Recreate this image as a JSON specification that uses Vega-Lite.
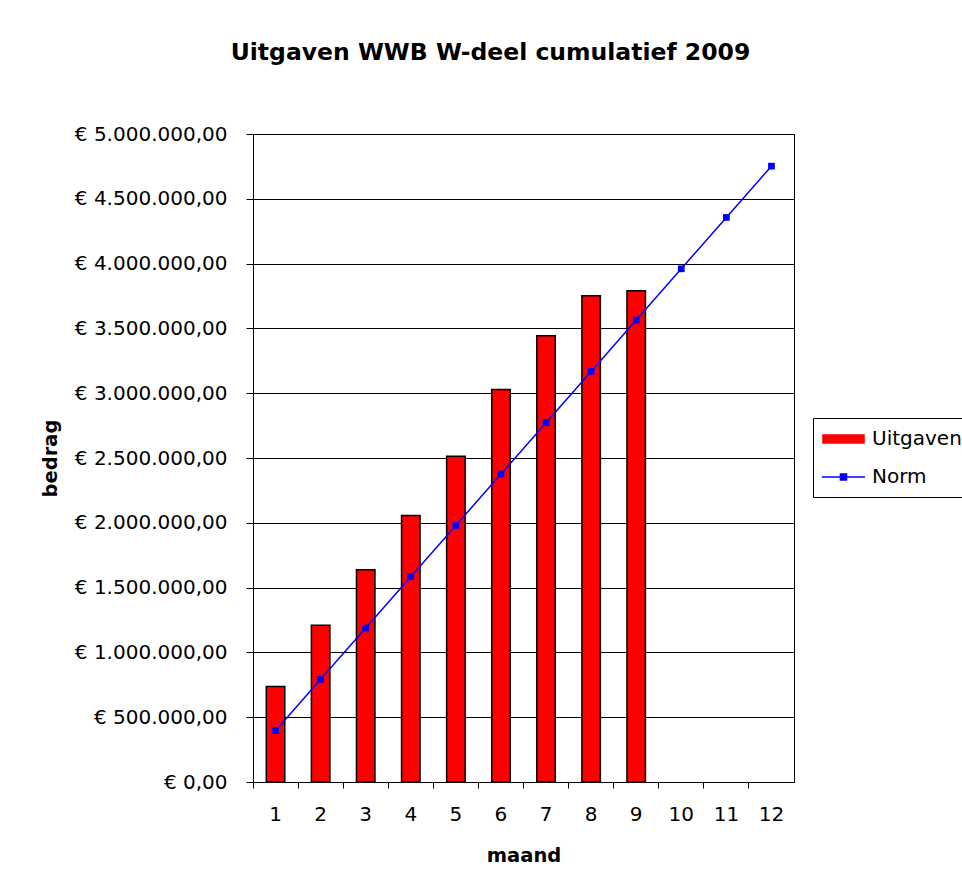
{
  "$schema": "https://vega.github.io/schema/vega-lite/v6.json",
  "width": 541,
  "height": 648,
  "autosize": {"type": "none"},
  "padding": {"left": 253, "top": 134, "right": 168, "bottom": 112},
  "background": "white",
  "title": {
    "text": "Uitgaven WWB W-deel cumulatief 2009",
    "fontSize": 23.5,
    "fontWeight": "bold",
    "font": "DejaVu Sans",
    "color": "#000000",
    "anchor": "middle",
    "frame": "group",
    "dx": -33,
    "offset": 41,
    "baseline": "alphabetic"
  },
  "data": {
    "values": [
      {"maand": 1, "serie": "Uitgaven", "bedrag": 737000},
      {"maand": 2, "serie": "Uitgaven", "bedrag": 1210000},
      {"maand": 3, "serie": "Uitgaven", "bedrag": 1637000},
      {"maand": 4, "serie": "Uitgaven", "bedrag": 2056000},
      {"maand": 5, "serie": "Uitgaven", "bedrag": 2514000},
      {"maand": 6, "serie": "Uitgaven", "bedrag": 3029000},
      {"maand": 7, "serie": "Uitgaven", "bedrag": 3443000},
      {"maand": 8, "serie": "Uitgaven", "bedrag": 3752000},
      {"maand": 9, "serie": "Uitgaven", "bedrag": 3790000},
      {"maand": 1, "serie": "Norm", "bedrag": 396000},
      {"maand": 2, "serie": "Norm", "bedrag": 792000},
      {"maand": 3, "serie": "Norm", "bedrag": 1188000},
      {"maand": 4, "serie": "Norm", "bedrag": 1584000},
      {"maand": 5, "serie": "Norm", "bedrag": 1980000},
      {"maand": 6, "serie": "Norm", "bedrag": 2376000},
      {"maand": 7, "serie": "Norm", "bedrag": 2772000},
      {"maand": 8, "serie": "Norm", "bedrag": 3168000},
      {"maand": 9, "serie": "Norm", "bedrag": 3564000},
      {"maand": 10, "serie": "Norm", "bedrag": 3960000},
      {"maand": 11, "serie": "Norm", "bedrag": 4356000},
      {"maand": 12, "serie": "Norm", "bedrag": 4752000}
    ]
  },
  "encoding": {
    "x": {
      "field": "maand",
      "type": "ordinal",
      "scale": {"paddingInner": 0, "paddingOuter": 0},
      "axis": {
        "title": "maand",
        "labelAngle": 0,
        "bandPosition": 0,
        "tickSize": 6,
        "labelPadding": 16,
        "labelFontSize": 20,
        "labelColor": "#000000",
        "titleFontSize": 19.5,
        "titleFontWeight": "bold",
        "titleColor": "#000000",
        "titlePadding": 22,
        "grid": false,
        "domainColor": "#000000",
        "tickColor": "#000000"
      }
    },
    "y": {
      "field": "bedrag",
      "type": "quantitative",
      "title": "bedrag",
      "scale": {"domain": [0, 5000000], "nice": false},
      "axis": {
        "values": [0, 500000, 1000000, 1500000, 2000000, 2500000, 3000000, 3500000, 4000000, 4500000, 5000000],
        "format": "$,.2f",
        "labelFontSize": 20,
        "labelColor": "#000000",
        "tickSize": 7,
        "tickColor": "#000000",
        "labelPadding": 19,
        "domainColor": "#000000",
        "grid": true,
        "gridColor": "#000000",
        "titleFontSize": 19.5,
        "titleFontWeight": "bold",
        "titleColor": "#000000",
        "titlePadding": 14
      }
    }
  },
  "layer": [
    {
      "transform": [{"filter": {"field": "serie", "equal": "geen"}}],
      "mark": {"type": "point", "filled": true, "opacity": 1},
      "encoding": {
        "color": {
          "field": "serie",
          "type": "nominal",
          "scale": {"domain": ["Uitgaven", "Norm"], "range": ["#FF0000", "#0000FF"]},
          "legend": {
            "title": null,
            "orient": "none",
            "legendX": 560,
            "legendY": 284,
            "strokeColor": "#000000",
            "fillColor": "#FFFFFF",
            "padding": 10,
            "labelFontSize": 20,
            "labelColor": "#000000",
            "symbolSize": 400,
            "symbolStrokeWidth": 1.5,
            "symbolOpacity": 1,
            "symbolOffset": 9.5,
            "labelOffset": 17.5,
            "rowPadding": 17
          }
        },
        "shape": {
          "field": "serie",
          "type": "nominal",
          "scale": {"domain": ["Uitgaven", "Norm"], "range": ["M-2.05,-0.4H2.05V0.4H-2.05Z", "M-2.15,0H2.15M-0.3,-0.3H0.3V0.3H-0.3Z"]},
          "legend": {
            "title": null,
            "orient": "none",
            "legendX": 560,
            "legendY": 284,
            "strokeColor": "#000000",
            "fillColor": "#FFFFFF",
            "padding": 10,
            "labelFontSize": 20,
            "labelColor": "#000000",
            "symbolSize": 400,
            "symbolStrokeWidth": 1.5,
            "symbolOpacity": 1,
            "symbolOffset": 9.5,
            "labelOffset": 17.5,
            "rowPadding": 17
          }
        },
        "stroke": {
          "field": "serie",
          "type": "nominal",
          "scale": {"domain": ["Uitgaven", "Norm"], "range": ["#000000", "#0000FF"]},
          "legend": {
            "title": null,
            "orient": "none",
            "legendX": 560,
            "legendY": 284,
            "strokeColor": "#000000",
            "fillColor": "#FFFFFF",
            "padding": 10,
            "labelFontSize": 20,
            "labelColor": "#000000",
            "symbolSize": 400,
            "symbolStrokeWidth": 1.5,
            "symbolOpacity": 1,
            "symbolOffset": 9.5,
            "labelOffset": 17.5,
            "rowPadding": 17
          }
        }
      }
    },
    {
      "transform": [{"filter": {"field": "serie", "equal": "Uitgaven"}}],
      "mark": {"type": "bar", "stroke": "#000000", "strokeWidth": 1.5, "width": {"band": 0.41}},
      "encoding": {
        "color": {"field": "serie", "type": "nominal", "legend": null}
      }
    },
    {
      "transform": [{"filter": {"field": "serie", "equal": "Norm"}}],
      "mark": {"type": "line", "strokeWidth": 1.5, "point": {"filled": true, "shape": "square", "size": 45}},
      "encoding": {
        "color": {"field": "serie", "type": "nominal", "legend": null}
      }
    }
  ],
  "config": {
    "font": "DejaVu Sans",
    "view": {"stroke": "#000000", "strokeWidth": 1},
    "locale": {
      "number": {"decimal": ",", "thousands": ".", "grouping": [3], "currency": ["€ ", ""]}
    }
  }
}
